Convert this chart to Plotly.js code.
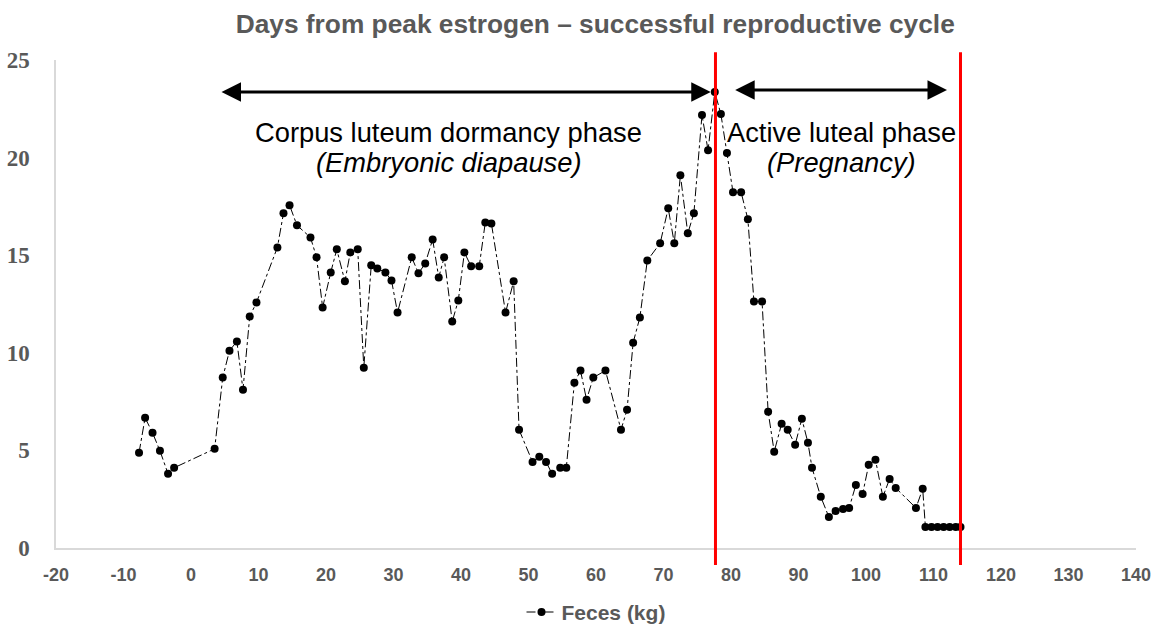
<!DOCTYPE html>
<html>
<head>
<meta charset="utf-8">
<script src="https://cdn.plot.ly/plotly-3.0.1.min.js"></script>
<style>html,body{margin:0;padding:0;background:#fff;}#chart{width:1158px;height:630px;}</style>
</head>
<body>
<div id="chart"></div>
<script>
const days = [-7.7,-6.8,-5.7,-4.6,-3.4,-2.5,3.5,4.7,5.7,6.8,7.7,8.7,9.7,12.8,13.7,14.6,15.7,17.7,18.6,19.5,20.7,21.6,22.8,23.6,24.7,25.6,26.7,27.6,28.8,29.7,30.6,32.7,33.7,34.7,35.8,36.7,37.5,38.7,39.6,40.5,41.5,42.7,43.6,44.5,46.6,47.8,48.6,50.6,51.6,52.6,53.5,54.7,55.6,56.8,57.7,58.6,59.6,61.4,63.7,64.6,65.5,66.5,67.6,69.5,70.7,71.6,72.5,73.6,74.5,75.7,76.6,77.6,78.5,79.4,80.3,81.5,82.5,83.4,84.6,85.5,86.4,87.5,88.4,89.5,90.5,91.4,92.0,93.3,94.5,95.5,96.6,97.5,98.5,99.5,100.4,101.4,102.5,103.5,104.4,107.4,108.4,108.8,109.7,110.6,111.5,112.4,113.3,114.0];
const feces = [4.88,6.67,5.90,4.98,3.80,4.11,5.08,8.73,10.11,10.58,8.11,11.86,12.58,15.40,17.15,17.56,16.53,15.91,14.89,12.32,14.12,15.30,13.66,15.14,15.30,9.24,14.48,14.32,14.12,13.71,12.06,14.89,14.07,14.58,15.81,13.86,14.89,11.60,12.68,15.14,14.43,14.43,16.68,16.63,12.06,13.66,6.06,4.41,4.67,4.41,3.80,4.11,4.11,8.47,9.09,7.60,8.73,9.09,6.06,7.08,10.52,11.81,14.73,15.61,17.40,15.61,19.10,16.12,17.15,22.18,20.38,23.36,22.23,20.23,18.22,18.22,16.84,12.63,12.63,6.98,4.93,6.37,6.06,5.29,6.62,5.39,4.11,2.62,1.59,1.90,2.00,2.05,3.23,2.77,4.26,4.52,2.62,3.54,3.08,2.05,3.03,1.08,1.08,1.08,1.08,1.08,1.08,1.08];
const xTickVals = [-20,-10,0,10,20,30,40,50,60,70,80,90,100,110,120,130,140];
const xTickText = ['-20','-10','0','10','20','30','40','50','60','70','80','90','100','110','120','130','140'];
const yTickVals = [0,5,10,15,20,25];
const yTickText = ['0','5','10','15','20','25'];
const phaseLines = [77.7, 114];
const arrowSpans = [[4.3, 77.0, 23.36], [80.4, 112.0, 23.46]];
const phaseLabels = [
  {x: 38.2, y: 21.3, text: 'Corpus luteum dormancy phase'},
  {x: 38.2, y: 19.75, text: '<i>(Embryonic diapause)</i>'},
  {x: 96.3, y: 21.3, text: 'Active luteal phase'},
  {x: 96.3, y: 19.75, text: '<i>(Pregnancy)</i>'}
];
const seriesName = 'Feces (kg)';
const titleText = 'Days from peak estrogen – successful reproductive cycle';

const trace = {
  x: days, y: feces, type: 'scatter', mode: 'lines+markers', name: '<b>' + seriesName + '</b>',
  line: {color: '#000', width: 1, dash: 'dashdot'},
  marker: {color: '#000', size: 8}
};

const shapes = phaseLines.map(v => ({
  type: 'line', xref: 'x', yref: 'paper', x0: v, x1: v, y0: -0.035, y1: 1.016,
  line: {color: '#ff0000', width: 3}
}));

const annotations = [];
arrowSpans.forEach(s => {
  annotations.push({
    x: s[1], y: s[2], ax: s[0], ay: s[2], xref: 'x', yref: 'y', axref: 'x', ayref: 'y',
    text: '', showarrow: true, arrowhead: 2, arrowside: 'end+start', arrowsize: 1.3, arrowwidth: 3, arrowcolor: '#000'
  });
});
phaseLabels.forEach(p => {
  annotations.push({x: p.x, y: p.y, xref: 'x', yref: 'y', text: p.text, showarrow: false,
    font: {family: 'Liberation Sans, Arial', size: 27.3, color: '#000'}});
});

const layout = {
  width: 1158, height: 630,
  margin: {l: 56, r: 22, t: 60, b: 82, autoexpand: false},
  paper_bgcolor: '#fff', plot_bgcolor: '#fff',
  title: {text: '<b>' + titleText + '</b>', x: 0.514, xanchor: 'center', y: 0.962, yanchor: 'middle',
    font: {family: 'Liberation Sans, Arial', size: 26.3, color: '#595959'}},
  xaxis: {range: [-20, 140], tickmode: 'array', tickvals: xTickVals, ticktext: xTickText,
    showgrid: false, zeroline: false, automargin: false,
    showline: true, linecolor: '#d9d9d9', linewidth: 1.5, ticks: '', ticklabelstandoff: 10,
    tickfont: {family: 'Liberation Sans, Arial', size: 18, color: '#595959', weight: 'bold'}},
  yaxis: {range: [0, 25], tickmode: 'array', tickvals: yTickVals, ticktext: yTickText,
    showgrid: false, zeroline: false, automargin: false,
    showline: true, linecolor: '#d9d9d9', linewidth: 1.5, ticks: '', ticklabelstandoff: 20,
    tickfont: {family: 'Liberation Serif, Times New Roman', size: 23, color: '#595959', weight: 'bold'}},
  showlegend: true,
  legend: {orientation: 'h', x: 0.5, xanchor: 'center', yref: 'container', y: 0.028, yanchor: 'middle',
    font: {family: 'Liberation Sans, Arial', size: 21, color: '#595959'}},
  shapes: shapes,
  annotations: annotations
};

Plotly.newPlot('chart', [trace], layout, {displayModeBar: false});
</script>
</body>
</html>
